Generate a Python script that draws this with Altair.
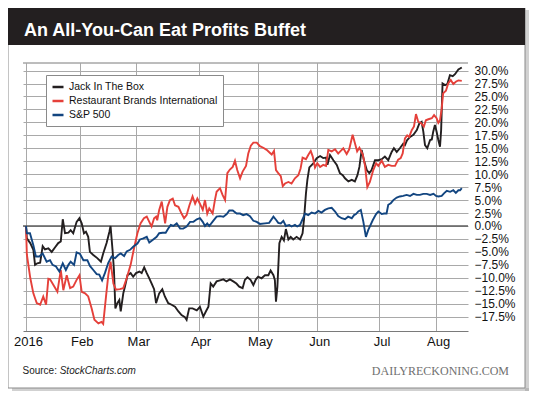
import altair as alt
import pandas as pd

title_text = "An All-You-Can Eat Profits Buffet"
source_prefix = "Source: "
source_name = "StockCharts.com"
brand_text = "DAILYRECKONING.COM"

series_names = ["Jack In The Box", "Restaurant Brands International", "S&P 500"]
series_colors = ["#231f20", "#e5403a", "#124580"]

# trading-day index of the first session of each month, and the axis labels
month_days = [0, 19, 39, 61, 82, 103, 125, 145]
month_labels = ["2016", "Feb", "Mar", "Apr", "May", "Jun", "Jul", "Aug"]
y_ticks = [-17.5, -15.0, -12.5, -10.0, -7.5, -5.0, -2.5, 0.0, 2.5, 5.0, 7.5,
           10.0, 12.5, 15.0, 17.5, 20.0, 22.5, 25.0, 27.5, 30.0]

jack_days = [0, 0.3, 1.5, 2.6, 3.2, 4.0, 5.0, 5.9, 6.7, 7.9, 9.1, 10.3, 11.4, 12.3, 13.0, 13.8, 15.0, 15.8,
             16.7, 17.9, 18.9, 19.7, 20.5, 21.2, 22.0, 22.6, 23.8, 25.2, 26.5, 27.3, 28.5, 29.5, 29.9, 30.6,
             31.1, 31.6, 32.3, 33.0, 33.5, 34.4, 35.0, 35.9, 37.0, 37.9, 38.9, 40.1, 40.9, 41.8, 42.7, 43.6,
             44.4, 45.3, 46.0, 47.1, 48.2, 49.1, 50.3, 51.5, 52.7, 53.9, 55.0, 56.2, 56.8, 57.7, 58.9, 60.4,
             61.5, 62.7, 63.6, 64.5, 65.3, 66.2, 67.4, 68.6, 69.8, 70.9, 72.1, 73.3, 74.4, 75.4, 76.6, 77.4,
             78.3, 79.4, 80.4, 81.3, 82.1, 83.3, 84.5, 85.7, 86.5, 87.5, 88.0, 88.4, 88.9, 89.6, 90.4, 91.2,
             91.9, 92.8, 93.6, 94.5, 95.7, 96.9, 97.8, 98.3, 99.0, 99.5, 100.2, 101.6, 102.8, 104.0, 105.1,
             106.1, 106.6, 107.5, 108.7, 109.9, 111.0, 112.0, 112.8, 114.0, 115.2, 116.3, 117.2, 117.9, 118.7,
             119.5, 120.5, 121.4, 122.2, 123.4, 124.6, 125.8, 126.9, 128.1, 129.3, 130.1, 131.1, 132.2, 133.4,
             134.0, 134.8, 135.8, 137.0, 138.2, 139.1, 139.9, 140.5, 141.1, 141.9, 142.9, 143.5, 144.0, 144.6,
             145.2, 145.8, 146.4, 146.8, 147.3, 148.2, 149.0, 149.9, 150.9, 151.7, 152.9, 154.1]
jack_vals = [0, -2.4, -3.3, -4.6, -7.5, -7.2, -7.1, -3.9, -4.5, -4.3, -5.0, -4.1, -3.3, -3.0, 1.3, -1.4, -1.3, -0.8,
             -1.4, 0.8, 1.5, 0.5, -1.4, -1.1, -2.1, -5.0, -5.6, -6.2, -6.9, -5.3, -3.3, -1.1, 0.0, -4.6,
             -8.5, -15.9, -14.9, -14.3, -16.5, -13.0, -11.7, -9.5, -9.1, -9.8, -9.1, -8.8, -9.1, -8.0, -9.1, -10.1,
             -11.1, -12.2, -14.9, -13.0, -12.2, -13.6, -14.9, -15.2, -15.6, -16.5, -17.2, -17.6, -18.1, -15.9, -15.9, -16.3,
             -15.6, -17.5, -16.5, -15.6, -11.1, -11.7, -10.7, -10.5, -10.3, -10.7, -10.3, -10.7, -11.1, -11.7, -12.0, -10.4,
             -9.9, -10.4, -11.4, -10.3, -9.8, -10.1, -9.5, -9.5, -8.6, -9.5, -10.4, -14.6, -11.7, -3.3, -2.1, -2.8,
             -0.6, -2.6, -2.1, -2.6, -2.1, -2.6, -1.4, 1.2, 6.3, 8.9, 11.3, 12.1, 13.1, 13.5, 13.1,
             13.2, 11.8, 13.7, 12.7, 11.8, 10.2, 9.8, 9.2, 8.6, 8.9, 8.6, 9.8, 11.4, 14.7,
             12.7, 10.8, 10.2, 10.8, 12.7, 12.7, 12.9, 13.4, 12.7, 14.3, 15.0, 14.3, 15.0, 15.9,
             15.6, 16.6, 17.2, 17.6, 18.5, 19.8, 20.1, 18.2, 15.6, 15.0, 16.6, 16.7, 18.2, 19.5,
             18.2, 16.6, 15.3, 18.5, 27.5, 27.2, 27.4, 29.1, 28.9, 29.3, 30.2, 30.6]

rbi_days = [0, 0.3, 1.5, 2.6, 3.8, 5.0, 6.1, 7.1, 7.9, 8.5, 9.7, 11.1, 12.3, 13.2, 14.4, 15.6, 16.7, 17.9,
            18.9, 19.7, 20.9, 22.0, 23.2, 24.2, 25.6, 26.7, 27.3, 28.3, 29.1, 29.9, 30.9, 31.8, 33.2, 34.4,
            35.6, 37.0, 38.2, 39.4, 40.5, 41.7, 42.7, 43.6, 44.4, 45.3, 46.0, 46.4, 47.1, 48.0, 49.2, 50.0,
            50.9, 51.9, 52.7, 53.9, 55.0, 55.9, 56.8, 57.8, 58.9, 59.8, 60.6, 61.5, 62.5, 63.3, 64.1, 64.8,
            66.0, 66.8, 67.4, 68.6, 69.5, 70.4, 71.2, 72.1, 73.1, 73.9, 74.7, 75.7, 76.6, 77.8, 78.6, 79.5,
            80.4, 81.6, 82.7, 83.9, 85.1, 86.3, 86.9, 87.7, 88.4, 89.2, 90.1, 90.8, 91.6, 92.8, 93.9, 95.1,
            96.3, 97.1, 97.8, 99.0, 99.8, 100.7, 101.4, 102.2, 103.0, 104.0, 105.1, 106.1, 106.9, 108.1, 109.3,
            110.4, 111.3, 112.2, 113.4, 114.3, 115.5, 116.3, 117.1, 117.9, 119.1, 119.9, 120.7, 121.6, 122.8,
            123.8, 124.6, 125.8, 126.9, 128.1, 129.3, 130.5, 131.6, 132.5, 133.2, 134.0, 134.8, 135.5, 136.4,
            137.2, 137.9, 138.7, 139.6, 140.7, 141.4, 142.3, 143.5, 144.3, 145.2, 145.8, 146.4, 147.0, 147.5,
            148.5, 149.3, 150.2, 151.1, 152.1, 152.9, 154.1]
rbi_vals = [0, -5.5, -10.0, -13.0, -14.9, -15.2, -13.6, -15.2, -10.2, -10.3, -11.4, -12.7, -8.5, -12.4, -9.5, -12.0, -11.7, -10.4,
            -9.5, -12.7, -13.0, -13.6, -15.9, -18.1, -18.8, -18.5, -18.9, -13.6, -9.5, -6.9, -11.1, -12.3, -12.2, -12.0,
            -10.1, -7.5, -4.3, -1.4, 0.5, 1.5, 1.8, 0.8, -0.1, 1.5, 1.8, 1.1, 3.1, 4.7, 0.5, 3.7,
            5.0, 5.3, 4.0, 3.7, 2.4, 1.5, 2.1, 4.0, 5.7, 4.3, 5.3, 4.3, 3.1, 5.0, 2.4, 3.4,
            2.4, 5.0, 6.6, 7.3, 6.0, 5.0, 10.2, 10.9, 11.4, 12.6, 10.8, 9.2, 10.5, 11.6, 14.0, 15.5,
            16.1, 16.1, 15.4, 15.1, 14.7, 14.1, 13.8, 14.5, 10.8, 10.2, 9.6, 7.7, 8.2, 8.5, 8.2, 9.2,
            9.8, 11.1, 13.2, 12.9, 13.7, 14.5, 13.4, 11.3, 12.1, 11.4, 11.8, 11.6, 14.7, 14.4, 14.8,
            14.0, 14.5, 15.0, 13.9, 14.8, 17.6, 16.0, 14.4, 15.1, 13.8, 11.6, 7.5, 8.5, 10.8,
            12.1, 11.6, 12.6, 11.4, 11.8, 11.6, 11.6, 12.8, 13.1, 14.0, 16.9, 17.5, 17.2, 18.5,
            19.2, 21.6, 20.1, 19.9, 19.2, 20.4, 20.6, 20.8, 21.4, 20.8, 19.9, 20.4, 22.7, 25.6,
            26.1, 27.5, 28.2, 27.4, 27.9, 28.1, 28.0]

spx_days = [0, 0.3, 1.4, 2.6, 3.5, 4.7, 5.9, 7.3, 8.5, 9.4, 10.6, 11.8, 13.0, 14.1, 15.0, 15.8, 17.0, 17.9,
            19.1, 20.3, 21.7, 22.6, 23.8, 25.0, 25.9, 26.9, 27.9, 29.1, 30.3, 31.5, 32.6, 33.5, 34.7, 35.6,
            36.8, 37.9, 39.4, 40.3, 41.5, 42.7, 43.6, 45.0, 46.2, 47.1, 48.3, 49.4, 50.3, 51.2, 52.1, 53.3,
            54.5, 55.6, 56.8, 58.0, 59.2, 60.4, 61.5, 62.5, 63.3, 64.1, 64.8, 66.2, 67.4, 68.6, 69.8, 71.0,
            71.9, 73.1, 74.5, 75.7, 76.8, 78.0, 79.2, 80.4, 81.6, 82.7, 84.5, 86.0, 87.5, 88.4, 89.2, 90.1,
            91.0, 91.9, 93.1, 93.9, 95.1, 95.9, 96.9, 97.8, 98.7, 99.8, 101.0, 102.2, 103.4, 104.5, 105.7,
            106.9, 108.1, 109.3, 110.4, 111.6, 112.8, 113.9, 115.2, 116.0, 116.7, 117.5, 118.4, 119.3, 120.2,
            121.0, 122.6, 123.8, 124.6, 125.8, 126.6, 127.5, 128.1, 129.0, 129.9, 131.1, 132.2, 133.4, 134.6,
            135.8, 137.0, 138.2, 139.3, 140.5, 141.7, 142.9, 144.1, 145.0, 145.8, 147.0, 147.8, 148.8, 150.0,
            151.1, 152.0, 152.9, 153.5, 154.1]
spx_vals = [0, -1.4, -1.4, -3.7, -5.9, -5.9, -5.3, -6.9, -6.6, -7.5, -7.8, -8.8, -7.2, -8.5, -7.5, -6.9, -7.5, -5.1,
            -5.4, -6.6, -6.6, -7.7, -8.5, -9.3, -9.4, -10.5, -9.1, -7.1, -5.9, -6.2, -5.6, -5.3, -5.8, -4.9,
            -4.6, -4.0, -3.4, -2.6, -2.4, -2.1, -3.2, -2.6, -2.1, -1.4, -1.3, -1.3, -0.5, 0.2, 0.0, 0.5,
            -0.5, -0.5, -0.1, 0.8, 0.8, 1.3, 1.5, 0.8, 0.0, 0.5, 0.0, 1.0, 1.8, 1.9, 1.8, 2.3,
            3.0, 3.0, 2.4, 2.4, 2.1, 2.3, 1.9, 1.0, 0.8, 0.4, 0.5, 0.6, 1.8, 1.2, 0.6, 0.5,
            1.0, 0.0, 0.2, -0.1, 0.2, -0.1, 0.2, 1.3, 2.4, 2.1, 2.6, 2.4, 2.9, 2.6, 3.1,
            3.4, 3.5, 2.8, 1.9, 1.5, 1.3, 1.8, 1.5, 2.1, 2.3, 2.8, 3.1, 0.8, -2.1,
            -0.8, 1.1, 2.3, 2.8, 2.3, 2.4, 2.4, 4.1, 4.4, 5.0, 5.5, 5.7, 5.8, 6.0,
            5.8, 6.2, 6.0, 6.0, 6.2, 6.2, 6.0, 6.2, 5.8, 5.7, 5.8, 6.3, 6.8, 6.6,
            6.9, 6.4, 6.9, 6.9, 7.3]

frames = []
for name, d, v in [(series_names[0], jack_days, jack_vals),
                   (series_names[1], rbi_days, rbi_vals),
                   (series_names[2], spx_days, spx_vals)]:
    frames.append(pd.DataFrame({"series": name, "day": d, "value": v}))
df = pd.concat(frames, ignore_index=True)

W, H = 445, 268
FONT = "Liberation Sans"
x_scale = alt.Scale(domain=[-1.06, 156.3], nice=False, zero=False)
y_scale = alt.Scale(domain=[-20.27, 31.46], nice=False, zero=False)

label_expr = ""
for d, l in zip(month_days, month_labels):
    label_expr += f"datum.value == {d} ? '{l}' : "
label_expr += "''"

one = pd.DataFrame({"k": [0]})

shadow = alt.Chart(one).mark_rect(color="#9a9a9a", opacity=0.45).encode(
    x=alt.value(502), x2=alt.value(506), y=alt.value(-53), y2=alt.value(329))
shadow2 = alt.Chart(one).mark_rect(color="#9a9a9a", opacity=0.45).encode(
    x=alt.value(-11), x2=alt.value(506), y=alt.value(325), y2=alt.value(329))
card = alt.Chart(one).mark_rect(fillOpacity=0, stroke="#8a8a8a", strokeWidth=1).encode(
    x=alt.value(-15), x2=alt.value(502), y=alt.value(-57), y2=alt.value(325))
title_bar = alt.Chart(one).mark_rect(color="#231f20").encode(
    x=alt.value(-15), x2=alt.value(502), y=alt.value(-57), y2=alt.value(-18))
title = alt.Chart(one).mark_text(text=title_text, font=FONT, fontSize=18, fontWeight="bold",
                                 color="white", align="left", baseline="alphabetic").encode(
    x=alt.value(1), y=alt.value(-27))

top_border = alt.Chart(one).mark_rule(color="#7a7a7a", strokeWidth=1).encode(
    x=alt.value(0), x2=alt.value(W), y=alt.value(0))
zero_line = alt.Chart(pd.DataFrame({"value": [0.0]})).mark_rule(color="#5e5e5e", strokeWidth=1.3).encode(
    y=alt.Y("value:Q", scale=y_scale))

lines = alt.Chart(df).mark_line(strokeWidth=1.9).encode(
    x=alt.X("day:Q", scale=x_scale,
            axis=alt.Axis(values=month_days, tickCount=len(month_days), labelExpr=label_expr,
                          title=None, grid=True,
                          ticks=False, tickSize=0, domain=True, domainColor="#7a7a7a",
                          labelFontSize=13, labelPadding=4, labelOffset=2, labelAngle=0,
                          labelOverlap=False, labelFlush=False, labelColor="#111111",
                          labelFont=FONT, gridColor="#a9a9a9", gridWidth=1)),
    y=alt.Y("value:Q", scale=y_scale,
            axis=alt.Axis(orient="right", values=y_ticks, tickCount=len(y_ticks) + 5,
                          labelExpr="format(datum.value, '.1f') + '%'", title=None, grid=True,
                          ticks=False, tickSize=0, domain=False, labelPadding=6,
                          labelFontSize=12, labelOverlap=False, labelFlush=False,
                          labelColor="#111111", labelFont=FONT, gridColor="#a9a9a9", gridWidth=1)),
    color=alt.Color("series:N", scale=alt.Scale(domain=series_names, range=series_colors),
                    legend=alt.Legend(orient="none", legendX=23, legendY=12, title=None,
                                      symbolType="stroke", symbolStrokeWidth=2.5, symbolSize=121,
                                      labelFontSize=10.5, labelFont=FONT, labelColor="#111111",
                                      strokeColor="#8a8a8a", fillColor="white", padding=5,
                                      rowPadding=1, labelOffset=4)),
)

src1 = alt.Chart(one).mark_text(text=source_prefix, font=FONT, fontSize=10, color="#222222",
                                align="left", baseline="middle").encode(x=alt.value(-0.5), y=alt.value(308))
src2 = alt.Chart(one).mark_text(text=source_name, font=FONT, fontSize=10, fontStyle="italic",
                                color="#222222", align="left", baseline="middle").encode(
    x=alt.value(36.7), y=alt.value(308))
brand = alt.Chart(one).mark_text(text=brand_text, font="Liberation Serif", fontSize=12,
                                 color="#707070", align="right", baseline="middle").encode(
    x=alt.value(486), y=alt.value(308))

chart = alt.layer(shadow, shadow2, card, title_bar, title, top_border, zero_line, lines,
                  src1, src2, brand).properties(
    width=W, height=H,
    padding={"left": 15, "top": 55, "right": 64, "bottom": 60},
    autosize=alt.AutoSizeParams(type="none"),
    background="white",
).configure_view(stroke=None)

chart.save("out.html", embed_options={"renderer": "svg", "actions": False})
